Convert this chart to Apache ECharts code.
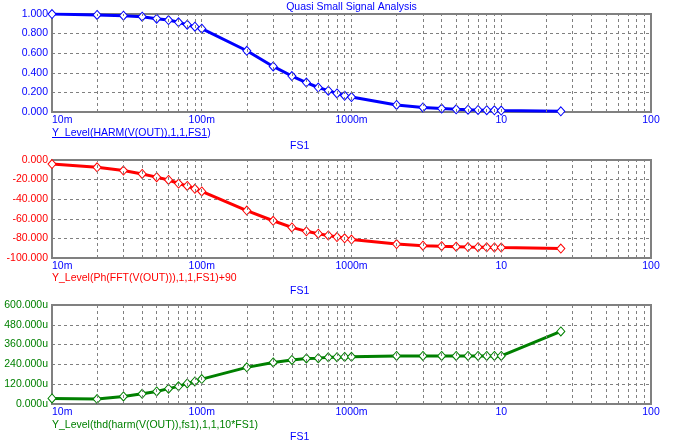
<!DOCTYPE html>
<html><head><meta charset="utf-8">
<script src="https://cdn.jsdelivr.net/npm/echarts@6/dist/echarts.min.js"></script>
<style>html,body{margin:0;padding:0;background:#fff}#c{width:678px;height:448px}</style>
</head><body><div id="c"></div>
<script>
const fs1 = [0.01,0.02,0.03,0.04,0.05,0.06,0.07,0.08,0.09,0.1,0.2,0.3,0.4,0.5,0.6,0.7,0.8,0.9,1,2,3,4,5,6,7,8,9,10,25];
const harm = [1.0,0.99,0.983,0.972,0.952,0.938,0.915,0.891,0.87,0.85,0.625,0.465,0.367,0.3,0.25,0.218,0.19,0.166,0.153,0.072,0.046,0.035,0.028,0.024,0.021,0.019,0.017,0.015,0.007];
const phase = [-4.2,-7.4,-10.8,-14.2,-17.5,-20.4,-24.0,-26.5,-29.4,-32.1,-51.6,-62.0,-68.8,-72.8,-75.2,-77.0,-78.6,-79.9,-81.2,-85.8,-87.4,-88.0,-88.4,-88.9,-89.0,-89.1,-89.2,-89.4,-90.4];
const thd = [34,30,46,62,76,93,107,125,137,151,222,252,267,276,278,283,284,285,286,291,291,291,291,291,291,291,291,291,440];
const xTicks = {0.01:'10m',0.1:'100m',1:'1000m',10:'10',100:'100'};
const minorX = [];
[0.01,0.1,1,10].forEach(d=>{for(let k=1;k<=9;k++){ if(!(k===1 && d===0.01)) minorX.push(+(d*k).toPrecision(3)); }});

const BLUE='#0000ff', RED='#ff0000', GREEN='#008000', GRAY='#808080';
const FONT='Liberation Sans, Arial, sans-serif';
const FS=10.5;
const grids = [
  {left:52, top:14, width:599, height:98},
  {left:52, top:160, width:599, height:98},
  {left:52, top:305, width:599, height:99}
];
function xAxis(i){
  return {type:'log', logBase:10, min:0.01, max:100, gridIndex:i,
    axisLine:{show:false}, axisTick:{show:false},
    splitLine:{show:false}, minorTick:{show:false},
    axisLabel:{color:BLUE, fontSize:FS, fontFamily:FONT, margin:3, alignMinLabel:'left',
      formatter:v=>{const k=Object.keys(xTicks).find(t=>Math.abs(Math.log10(+t)-Math.log10(v))<1e-6);return k?xTicks[k]:'';}}};
}
function yAxis(i,min,max,intv,color,fmt){
  return {type:'value', gridIndex:i, min:min, max:max, interval:intv,
    axisLine:{show:false}, axisTick:{show:false},
    splitLine:{show:true, lineStyle:{color:GRAY, type:[3,3], width:1}},
    axisLabel:{color:color, fontSize:FS, fontFamily:FONT, margin:4, formatter:fmt}};
}
function series(i,data,color){
  return {type:'line', xAxisIndex:i, yAxisIndex:i, data:fs1.map((x,j)=>[x,data[j]]),
    symbol:'diamond', symbolSize:[8,9], showAllSymbol:true,
    lineStyle:{color:color, width:3}, itemStyle:{color:'#fff', borderColor:color, borderWidth:1},
    emphasis:{disabled:true}, animation:false, z:3};
}
function gridSeries(i){
  return {type:'line', xAxisIndex:i, yAxisIndex:i, data:[], z:1, silent:true,
    markLine:{silent:true, symbol:'none', label:{show:false}, animation:false,
      lineStyle:{color:GRAY, type:[3,3], width:1}, data:minorX.map(v=>({xAxis:v}))}};
}
const legends = [
  {t:'Y_Level(HARM(V(OUT)),1,1,FS1)', c:BLUE, y:133.5},
  {t:'Y_Level(Ph(FFT(V(OUT))),1,1,FS1)+90', c:RED, y:278},
  {t:'Y_Level(thd(harm(V(OUT)),fs1),1,1,10*FS1)', c:GREEN, y:425}
];
const graphic = [];
legends.forEach(l=>{
  graphic.push({type:'text', x:52, y:l.y, style:{text:l.t, fill:l.c, font:FS+'px '+FONT, verticalAlign:'middle'}});
});
graphic.push({type:'line', shape:{x1:52,y1:137.5,x2:207,y2:137.5}, style:{stroke:BLUE, lineWidth:1}});
[146,291,437].forEach(y=>graphic.push({type:'text', x:290, y:y, style:{text:'FS1', fill:BLUE, font:FS+'px '+FONT, verticalAlign:'middle'}}));
graphic.push({type:'text', x:351.5, y:7, style:{text:'Quasi Small Signal Analysis', fill:BLUE, font:FS+'px '+FONT, align:'center', verticalAlign:'middle'}});

const chart = echarts.init(document.getElementById('c'), null, {renderer:'canvas'});
chart.setOption({
  animation:false,
  grid: grids.map(g=>Object.assign({show:true, borderColor:GRAY, borderWidth:2, backgroundColor:'transparent'}, g)),
  xAxis:[xAxis(0),xAxis(1),xAxis(2)],
  yAxis:[
    yAxis(0,0,1,0.2,BLUE,v=>v.toFixed(3)),
    yAxis(1,-100,0,20,RED,v=>v.toFixed(3)),
    yAxis(2,0,600,120,GREEN,v=>v.toFixed(3)+'u')
  ],
  series:[gridSeries(0),gridSeries(1),gridSeries(2),series(0,harm,BLUE),series(1,phase,RED),series(2,thd,GREEN)],
  graphic:graphic
});
</script></body></html>
